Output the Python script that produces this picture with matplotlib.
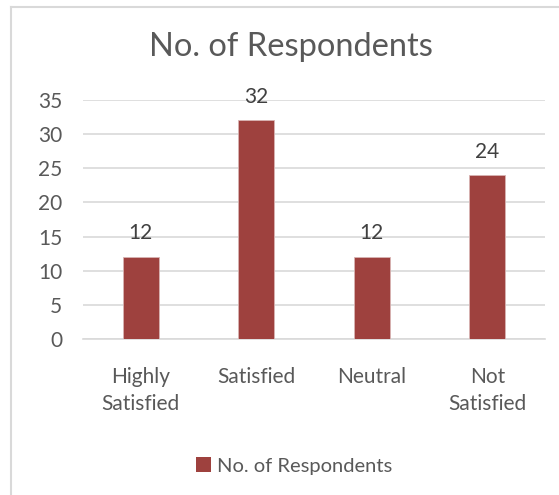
import matplotlib
matplotlib.use('Agg')
import matplotlib.pyplot as plt
from matplotlib.lines import Line2D
from matplotlib.patches import Patch

plt.rcParams['font.family'] = ['Lato', 'DejaVu Sans']

categories = ['Highly\nSatisfied', 'Satisfied', 'Neutral', 'Not\nSatisfied']
respondents = [12, 32, 12, 24]
series_name = 'No. of Respondents'

bar_color = '#9e413e'
grid_color = '#d9d9d9'
text_color = '#595959'

W, H = 559, 495
fig = plt.figure(figsize=(W / 100, H / 100), dpi=100)
ax = fig.add_axes([83 / W, 1 - 339 / H, (545 - 83) / W, (339 - 100) / H])

x = range(len(categories))
bars = ax.bar(x, respondents, width=0.31, color=bar_color,
              edgecolor='#d8b4b3', linewidth=0.6, zorder=3)

for rect, v in zip(bars, respondents):
    ax.annotate(str(v), (rect.get_x() + rect.get_width() / 2, v),
                xytext=(0, 17), textcoords='offset points',
                ha='center', va='center', fontsize=15,
                color='#404040', clip_on=False)

ax.set_xlim(-0.5, len(categories) - 0.5)
ax.set_ylim(0, 35)
ax.set_yticks(range(0, 36, 5))
ax.set_xticks(list(x))
ax.set_xticklabels(categories, fontsize=15, color=text_color, linespacing=1.45)
ax.tick_params(axis='y', labelsize=15, labelcolor=text_color, length=0, pad=15)
ax.tick_params(axis='x', length=0, pad=20)

ax.yaxis.grid(True, color=grid_color, linewidth=1.2, zorder=0)
ax.set_axisbelow(True)
for s in ['left', 'right', 'top']:
    ax.spines[s].set_visible(False)
ax.spines['bottom'].set_color(grid_color)
ax.spines['bottom'].set_linewidth(1.2)

fig.text(291 / W, 1 - 47 / H, series_name, ha='center', va='center',
         fontsize=23.5, color=text_color)

fig.legend(handles=[Patch(facecolor=bar_color, edgecolor='none', label=series_name)],
           loc='center', bbox_to_anchor=(294 / W, 1 - 466 / H), frameon=False,
           fontsize=14.5, labelcolor=text_color, handlelength=0.75, handleheight=0.75,
           handletextpad=0.3)

# chart area border (left and top edges)
fig.add_artist(Line2D([11 / W, 11 / W], [0, 1 - 7 / H], transform=fig.transFigure,
                      color=grid_color, linewidth=1.5))
fig.add_artist(Line2D([11 / W, 1], [1 - 7 / H, 1 - 7 / H], transform=fig.transFigure,
                      color=grid_color, linewidth=1.5))

fig.savefig('out.png', dpi=100, facecolor='white')
